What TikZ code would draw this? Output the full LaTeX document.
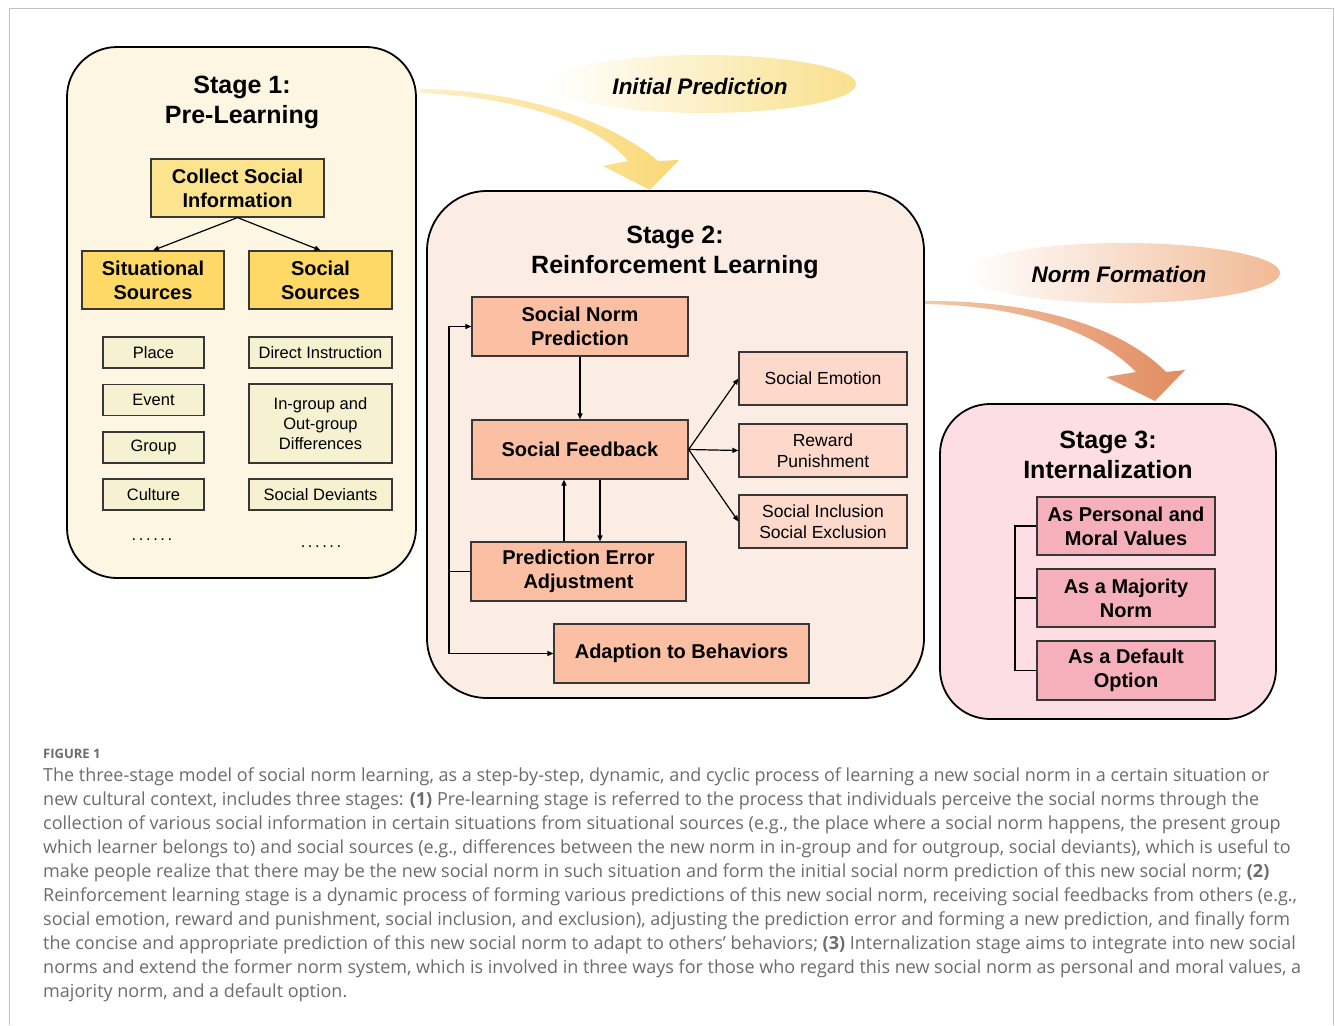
\documentclass[tikz,border=0pt]{standalone}
\usepackage{fontspec}
\setmainfont{Liberation Sans}
\newfontfamily\capfont{Open Sans}
\usetikzlibrary{arrows.meta,shapes.geometric}
\definecolor{sonefill}{RGB}{253,246,227}
\definecolor{collectfill}{RGB}{252,228,142}
\definecolor{srcfill}{RGB}{255,217,102}
\definecolor{smallfill}{RGB}{246,241,208}
\definecolor{stwofill}{RGB}{251,236,228}
\definecolor{salmonfill}{RGB}{251,192,163}
\definecolor{lsalmonfill}{RGB}{252,217,203}
\definecolor{sthreefill}{RGB}{252,222,228}
\definecolor{pinkfill}{RGB}{245,176,188}
\definecolor{boxline}{RGB}{55,55,55}
\definecolor{capgray}{RGB}{108,108,108}
\definecolor{framegray}{RGB}{195,195,195}
\definecolor{aonel}{RGB}{253,240,200}
\definecolor{aoner}{RGB}{249,217,118}
\definecolor{atwol}{RGB}{244,200,172}
\definecolor{atwor}{RGB}{225,140,96}
\definecolor{eoner}{RGB}{249,224,140}
\definecolor{etwor}{RGB}{242,186,150}
\newcommand\titlefont{\fontsize{25}{30}\selectfont\bfseries}
\newcommand\boldfont{\fontsize{20}{24}\selectfont\bfseries}
\newcommand\smallfont{\fontsize{16.5}{20}\selectfont}
\newcommand\midfont{\fontsize{17.5}{20.5}\selectfont}
\newcommand\capsize{\capfont\fontsize{18}{24}\selectfont}
\begin{document}
\begin{tikzpicture}[x=1pt,y=-1pt,
  stagebox/.style={draw=black, line width=1.8pt, rounded corners=50pt, inner sep=0pt},
  tbox/.style={draw=boxline, line width=1.2pt, inner sep=0pt, align=center},
  boldbox/.style={tbox, font=\boldfont},
  smallbox/.style={tbox, font=\smallfont},
  midbox/.style={tbox, font=\midfont},
  arr/.style={line width=1.2pt, -{Triangle[length=6pt,width=5pt]}},
  plain/.style={line width=1.2pt},
  captext/.style={anchor=base west, inner sep=0pt, text=capgray, font=\capsize}]
\useasboundingbox (0,0) rectangle (1335,1025);
\fill[white] (0,0) rectangle (1335,1025);
\draw[framegray, line width=1pt] (9,1025) -- (9,9) -- (1333,9) -- (1333,1025);

% Stage 1
\node[stagebox, fill=sonefill, minimum width=349pt, minimum height=531pt] (s1) at (241.5,312.5) {};
\node[font=\titlefont, align=center] (t1) at (242,102) {Stage 1:\\Pre-Learning};
\node[boldbox, fill=collectfill, minimum width=173pt, minimum height=58pt] (col) at (237.5,188) {Collect Social\\Information};
\node[boldbox, fill=srcfill, minimum width=142pt, minimum height=58pt] (sit) at (153,280) {Situational\\Sources};
\node[boldbox, fill=srcfill, minimum width=143pt, minimum height=58pt] (soc) at (320.5,280) {Social\\Sources};
\draw[arr] (col.south) -- (sit.north);
\draw[arr] (col.south) -- (soc.north);
\node[smallbox, fill=smallfill, minimum width=101pt, minimum height=31pt] (place) at (153.5,352.5) {Place};
\node[smallbox, fill=smallfill, minimum width=101pt, minimum height=31pt] (event) at (153.5,400) {Event};
\node[smallbox, fill=smallfill, minimum width=101pt, minimum height=31pt] (group) at (153.5,447.5) {Group};
\node[smallbox, fill=smallfill, minimum width=101pt, minimum height=31pt] (cult) at (153.5,494.5) {Culture};
\node[smallbox, fill=smallfill, minimum width=143pt, minimum height=31pt] (direct) at (320.5,352.5) {Direct Instruction};
\node[smallbox, fill=smallfill, minimum width=143pt, minimum height=79pt] (ingroup) at (320.5,423.5) {In-group and\\Out-group\\Differences};
\node[smallbox, fill=smallfill, minimum width=143pt, minimum height=31pt] (devi) at (320.5,494.5) {Social Deviants};
\node[font=\smallfont] (dl) at (152,540) {.\hspace{2.6pt}.\hspace{2.6pt}.\hspace{2.6pt}.\hspace{2.6pt}.\hspace{2.6pt}.};
\node[font=\smallfont] (dr) at (321,547) {.\hspace{2.6pt}.\hspace{2.6pt}.\hspace{2.6pt}.\hspace{2.6pt}.\hspace{2.6pt}.};

% Initial prediction
\node[ellipse, left color=white, right color=eoner, minimum width=306pt, minimum height=58pt, inner sep=0pt] (ip) at (703,84) {};
\node[font=\fontsize{22.5}{26}\selectfont\bfseries\itshape] (iptxt) at (700,86) {Initial Prediction};
\shade[left color=aonel, right color=aoner] (420,89) .. controls (520,90) and (610,120) .. (658,161) -- (679,160) -- (650,190) -- (603,166) -- (628,161) .. controls (600,125) and (520,97) .. (420,93) -- cycle;

% Stage 2
\node[stagebox, fill=stwofill, rounded corners=60pt, minimum width=497pt, minimum height=507pt] (s2) at (675.5,444.5) {};
\node[font=\titlefont, align=center] (t2) at (675,252) {Stage 2:\\Reinforcement Learning};
\node[boldbox, fill=salmonfill, minimum width=216pt, minimum height=59pt] (snp) at (580,326.5) {Social Norm\\Prediction};
\node[boldbox, fill=salmonfill, minimum width=216pt, minimum height=59pt] (sf) at (580,449.5) {Social Feedback};
\node[boldbox, fill=salmonfill, minimum width=215pt, minimum height=59pt] (pea) at (578.5,571.5) {Prediction Error\\Adjustment};
\node[boldbox, fill=salmonfill, minimum width=255pt, minimum height=59pt] (adb) at (681.5,653.5) {Adaption to Behaviors};
\node[midbox, fill=lsalmonfill, minimum width=168pt, minimum height=53pt] (se) at (823,378.5) {Social Emotion};
\node[midbox, fill=lsalmonfill, minimum width=168pt, minimum height=53pt] (rp) at (823,450.5) {Reward\\Punishment};
\node[midbox, fill=lsalmonfill, minimum width=168pt, minimum height=53pt] (si) at (823,521.5) {Social Inclusion\\Social Exclusion};
\coordinate (u1) at (564,0);
\coordinate (u2) at (600,0);
\coordinate (lx) at (449,0);
\draw[arr] (snp.south) -- (sf.north);
\draw[arr] (pea.north -| u1) -- (sf.south -| u1);
\draw[arr] (sf.south -| u2) -- (pea.north -| u2);
\draw[arr] (sf.east) -- (se.west);
\draw[arr] (sf.east) -- (rp.west);
\draw[arr] (sf.east) -- (si.west);
\draw[plain] (pea.west) -- (pea.west -| lx);
\draw[arr] (pea.west -| lx) |- (snp.west);
\draw[arr] (pea.west -| lx) |- (adb.west);

% Norm formation
\node[ellipse, left color=white, right color=etwor, minimum width=314pt, minimum height=60pt, inner sep=0pt] (nf) at (1123,273) {};
\node[font=\fontsize{22.5}{26}\selectfont\bfseries\itshape] (nftxt) at (1119,274) {Norm Formation};
\shade[left color=atwol, right color=atwor] (925,301) .. controls (1030,300) and (1120,325) .. (1166,372) -- (1185,370) -- (1155,401) -- (1106,377) -- (1136,372) .. controls (1100,335) and (1030,306) .. (925,304) -- cycle;

% Stage 3
\node[stagebox, fill=sthreefill, minimum width=336pt, minimum height=315pt] (s3) at (1108,561.5) {};
\node[font=\titlefont, align=center] (t3) at (1108,455) {Stage 3:\\Internalization};
\node[boldbox, fill=pinkfill, minimum width=178pt, minimum height=58pt] (apm) at (1126,526) {As Personal and\\Moral Values};
\node[boldbox, fill=pinkfill, minimum width=178pt, minimum height=58pt] (amn) at (1126,598) {As a Majority\\Norm};
\node[boldbox, fill=pinkfill, minimum width=178pt, minimum height=59pt] (ado) at (1126,670.5) {As a Default\\Option};
\coordinate (bx) at (1015,0);
\draw[plain] (apm.west) -- (apm.west -| bx) -- (ado.west -| bx) -- (ado.west);
\draw[plain] (amn.west) -- (amn.west -| bx);

% Caption
\node[anchor=base west, inner sep=0pt, text=capgray, font=\capfont\fontsize{13}{16}\selectfont\bfseries] (fig) at (43,758) {FIGURE 1};
\node[captext] (c1) at (43,781) {The three-stage model of social norm learning, as a step-by-step, dynamic, and cyclic process of learning a new social norm in a certain situation or};
\node[captext] (c2) at (43,805) {new cultural context, includes three stages: \textbf{(1)} Pre-learning stage is referred to the process that individuals perceive the social norms through the};
\node[captext] (c3) at (43,829) {collection of various social information in certain situations from situational sources (e.g., the place where a social norm happens, the present group};
\node[captext] (c4) at (43,853) {which learner belongs to) and social sources (e.g., differences between the new norm in in-group and for outgroup, social deviants), which is useful to};
\node[captext] (c5) at (43,877) {make people realize that there may be the new social norm in such situation and form the initial social norm prediction of this new social norm; \textbf{(2)}};
\node[captext] (c6) at (43,901) {Reinforcement learning stage is a dynamic process of forming various predictions of this new social norm, receiving social feedbacks from others (e.g.,};
\node[captext] (c7) at (43,925) {social emotion, reward and punishment, social inclusion, and exclusion), adjusting the prediction error and forming a new prediction, and finally form};
\node[captext] (c8) at (43,949) {the concise and appropriate prediction of this new social norm to adapt to others’ behaviors; \textbf{(3)} Internalization stage aims to integrate into new social};
\node[captext] (c9) at (43,973) {norms and extend the former norm system, which is involved in three ways for those who regard this new social norm as personal and moral values, a};
\node[captext] (c10) at (43,997) {majority norm, and a default option.};
\end{tikzpicture}
\end{document}
